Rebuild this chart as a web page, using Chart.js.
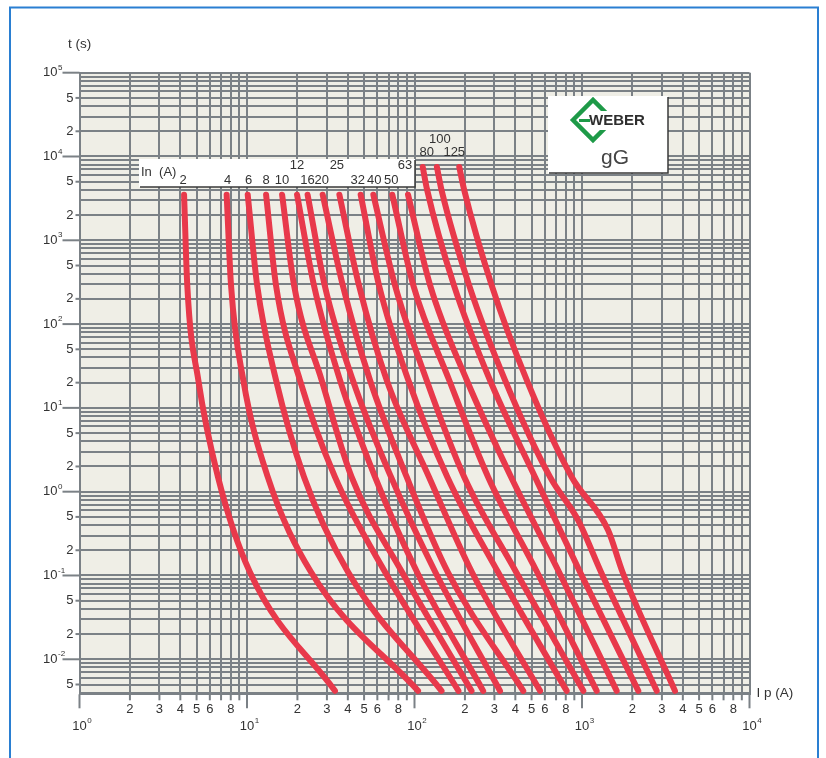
<!DOCTYPE html>
<html>
<head>
<meta charset="utf-8">
<script src="https://cdn.jsdelivr.net/npm/chart.js@4.4.0/dist/chart.umd.min.js"></script>
<style>
html, body { margin: 0; padding: 0; background: #fff; }
</style>
</head>
<body>
<canvas id="fuseChart" width="826" height="758"></canvas>
<script>
// fuse ratings In (A), one curve each
const ratings = [2, 4, 6, 8, 10, 12, 16, 20, 25, 32, 40, 50, 63, 80, 100, 125];

const timesShort = [3500, 290, 21.5, 1.5, 0.11, 0.0042];
const timesTall = [7500, 3980, 290, 21.5, 1.5, 0.11, 0.0042];
const times100 = [7500, 3980, 290, 21.5, 1.5, 0.46, 0.11, 0.0042];
const times125 = [7500, 3980, 290, 21.5, 1.5, 0.35, 0.11, 0.0042];

// prospective current I p (A) for each curve at those times
const amps2 = [4.21, 4.40, 5.12, 6.71, 10.4, 33.5];
const amps4 = [7.56, 8.03, 9.50, 13.3, 24.1, 105];
const amps6 = [10.1, 11.5, 14.9, 21.9, 40.1, 145];
const amps8 = [13.0, 14.9, 20.7, 33.5, 66.7, 183];
const amps10 = [16.2, 19.1, 27.9, 42.1, 84.2, 219];
const amps12 = [19.9, 25.1, 35.9, 58.1, 103.5, 257];
const amps16 = [23.0, 29.1, 42.8, 72.4, 133, 324];
const amps20 = [28.3, 37.3, 54.2, 89.8, 158, 446];
const amps25 = [35.6, 46.6, 68.2, 122, 220, 562];
const amps32 = [47.7, 61.4, 91.8, 157, 315, 810];
const amps40 = [56.8, 76.5, 118, 198, 404, 1018];
const amps50 = [73.7, 98.4, 161, 275, 539, 1224];
const amps63 = [91.5, 124, 205, 377, 729, 1611];
const amps80 = [112, 119, 172, 282, 524, 973, 2169];
const amps100 = [136, 145, 212, 347, 644, 946, 1298, 2793];
const amps125 = [185, 198, 289, 468, 868, 1430, 1745, 3591];

const curveAmps = [amps2, amps4, amps6, amps8, amps10, amps12, amps16, amps20,
    amps25, amps32, amps40, amps50, amps63, amps80, amps100, amps125];
const curveTimes = [timesShort, timesShort, timesShort, timesShort, timesShort,
    timesShort, timesShort, timesShort, timesShort, timesShort, timesShort,
    timesShort, timesShort, timesTall, times100, times125];

// axis tick labels
const xDecades = [0, 1, 2, 3, 4];
const xMinorDigits = [2, 3, 4, 5, 6, 8];
const yDecades = [5, 4, 3, 2, 1, 0, -1, -2];
const yMinorDigits = [5, 2];

const FONT = '"Liberation Sans", Arial, sans-serif';
const gridColor = '#7b8186';
const textColor = '#333';
const curveColor = '#e8394b';

function logTicks(lo, hi) {
    let out = [];
    for (let e = Math.floor(Math.log10(lo)); e <= Math.ceil(Math.log10(hi)); e++) {
        for (let m = 1; m <= 9; m++) {
            let v = m * Math.pow(10, e);
            if (v >= lo * 0.999 && v <= hi * 1.001) out.push(v);
        }
    }
    return out;
}

function drawPow(ctx, exp, x, y, align) {
    ctx.font = '13px ' + FONT;
    let bw = ctx.measureText('10').width;
    ctx.textBaseline = 'middle';
    if (align === 'center') {
        ctx.textAlign = 'left';
        ctx.fillText('10', x - bw / 2, y);
        ctx.font = '8px ' + FONT;
        ctx.fillText(String(exp), x + bw / 2 + 0.5, y - 6);
    } else {
        ctx.textAlign = 'right';
        ctx.fillText('10', x, y);
        ctx.font = '8px ' + FONT;
        ctx.textAlign = 'left';
        ctx.fillText(String(exp), x + 0.5, y - 5);
    }
}

function line(ctx, x1, y1, x2, y2) {
    ctx.beginPath();
    ctx.moveTo(x1, y1);
    ctx.lineTo(x2, y2);
    ctx.stroke();
}

function shadowBox(ctx, x, y, w, h) {
    ctx.fillStyle = '#fff';
    ctx.fillRect(x, y, w, h);
    ctx.strokeStyle = '#3a3a3a';
    ctx.lineWidth = 1.5;
    ctx.beginPath();
    ctx.moveTo(x + 1, y + h);
    ctx.lineTo(x + w, y + h);
    ctx.lineTo(x + w, y + 1);
    ctx.stroke();
}

const paperPlugin = {
    id: 'paper',
    beforeDraw(chart) {
        const {ctx, chartArea: a} = chart;
        ctx.save();
        ctx.fillStyle = '#fff';
        ctx.fillRect(0, 0, chart.width, chart.height);
        ctx.fillStyle = '#efeee6';
        ctx.fillRect(a.left, a.top, a.right - a.left, a.bottom - a.top);
        ctx.restore();
    },
    beforeDatasetsDraw(chart) {
        const {ctx} = chart;
        const xs = chart.scales.x;
        ctx.save();
        // In (A) legend strip, numbers sit over the top of each curve
        shadowBox(ctx, 139, 159, 276, 28);
        ctx.fillStyle = textColor;
        ctx.font = '13px ' + FONT;
        ctx.textBaseline = 'middle';
        ctx.textAlign = 'left';
        ctx.fillText('In  (A)', 141, 172);
        ctx.textAlign = 'center';
        const nudge = {2: -1, 4: 1, 6: 1, 16: 0, 20: -1, 25: -2.5, 32: -3, 40: 1, 50: -1, 63: -3, 80: 4, 100: 3, 125: -5};
        ratings.forEach((r, i) => {
            let px = xs.getPixelForValue(curveAmps[i][0]) + (nudge[r] || 0);
            let py = 180;
            if (r === 12 || r === 25 || r === 63) py = 165;
            if (r === 80 || r === 125) py = 152;
            if (r === 100) py = 139;
            ctx.fillText(String(r), px, py);
        });

        // maker box
        shadowBox(ctx, 548, 96, 120, 77);
        ctx.strokeStyle = '#1e9a48';
        ctx.lineWidth = 4.5;
        ctx.lineJoin = 'miter';
        ctx.beginPath();
        ctx.moveTo(573, 120);
        ctx.lineTo(593, 100);
        ctx.lineTo(613, 120);
        ctx.lineTo(593, 140);
        ctx.closePath();
        ctx.stroke();
        ctx.fillStyle = '#fff';
        ctx.fillRect(589, 111, 57, 19);
        ctx.strokeStyle = '#1e9a48';
        ctx.lineWidth = 3;
        line(ctx, 579, 120.5, 590, 120.5);
        ctx.fillStyle = '#2e2e2e';
        ctx.font = 'bold 15px ' + FONT;
        ctx.textAlign = 'left';
        ctx.fillText('WEBER', 589, 121);
        ctx.fillStyle = '#444';
        ctx.font = '21px ' + FONT;
        ctx.textAlign = 'center';
        ctx.fillText('gG', 615, 158);
        ctx.restore();
    },
    afterDraw(chart) {
        const {ctx, chartArea: a} = chart;
        const xs = chart.scales.x, ys = chart.scales.y;
        ctx.save();
        ctx.strokeStyle = gridColor;
        ctx.lineWidth = 2;
        ctx.fillStyle = textColor;

        // x ticks and labels
        logTicks(1, 1e4).forEach(v => {
            let px = xs.getPixelForValue(v);
            let major = Math.abs(Math.log10(v) - Math.round(Math.log10(v))) < 1e-9;
            line(ctx, px, a.bottom, px, a.bottom + (major ? 14 : 6));
        });
        ctx.font = '13px ' + FONT;
        ctx.textAlign = 'center';
        ctx.textBaseline = 'middle';
        xDecades.slice(0, -1).forEach(e => {
            xMinorDigits.forEach(d => {
                ctx.fillText(String(d), xs.getPixelForValue(d * Math.pow(10, e)), a.bottom + 15);
            });
        });
        xDecades.forEach(e => drawPow(ctx, e, xs.getPixelForValue(Math.pow(10, e)), a.bottom + 32, 'center'));

        // y ticks and labels
        yDecades.forEach(e => {
            let py = ys.getPixelForValue(Math.pow(10, e));
            line(ctx, a.left - 17, py, a.left, py);
            drawPow(ctx, e, a.left - 22, py, 'right');
        });
        yDecades.forEach(e => {
            yMinorDigits.forEach(d => {
                let v = d * Math.pow(10, e - 1);
                if (v < ys.min) return;
                let py = ys.getPixelForValue(v);
                line(ctx, a.left - 4, py, a.left, py);
                ctx.font = '13px ' + FONT;
                ctx.textAlign = 'right';
                ctx.fillText(String(d), a.left - 6, py);
            });
        });

        // axis titles
        ctx.font = '13.5px ' + FONT;
        ctx.textAlign = 'left';
        ctx.fillText('t (s)', 68, 44);
        ctx.fillText('I p (A)', a.right + 7, a.bottom - 1);

        // frame round the sheet
        ctx.strokeStyle = '#2a7fd2';
        ctx.lineWidth = 2;
        ctx.strokeRect(10, 7.5, 808, 780);
        ctx.restore();
    }
};

const datasets = ratings.map((r, i) => {
    let amps = curveAmps[i];
    let times = curveTimes[i];
    return {
        label: r + ' A',
        data: amps.map((v, k) => ({x: v, y: times[k]})),
        showLine: true,
        borderColor: curveColor,
        backgroundColor: curveColor,
        borderWidth: 6,
        borderCapStyle: 'round',
        pointRadius: 0,
        cubicInterpolationMode: 'monotone'
    };
});

const chart = new Chart(document.getElementById('fuseChart'), {
    type: 'scatter',
    data: {datasets: datasets},
    options: {
        responsive: false,
        animation: false,
        events: [],
        layout: {padding: {left: 79.5, top: 72.7, right: 76.5, bottom: 63.7}},
        plugins: {legend: {display: false}, tooltip: {enabled: false}},
        scales: {
            x: {
                type: 'logarithmic',
                min: 1,
                max: 1e4,
                afterBuildTicks: s => { s.ticks = logTicks(1, 1e4).map(v => ({value: v})); },
                ticks: {display: false},
                grid: {color: gridColor, lineWidth: 2, drawTicks: false},
                border: {display: true, color: gridColor, width: 2}
            },
            y: {
                type: 'logarithmic',
                min: 0.00382,
                max: 1e5,
                afterBuildTicks: s => { s.ticks = logTicks(0.00382, 1e5).map(v => ({value: v})); },
                ticks: {display: false},
                grid: {color: gridColor, lineWidth: 2, drawTicks: false},
                border: {display: true, color: gridColor, width: 2}
            }
        }
    },
    plugins: [paperPlugin]
});
</script>
</body>
</html>
